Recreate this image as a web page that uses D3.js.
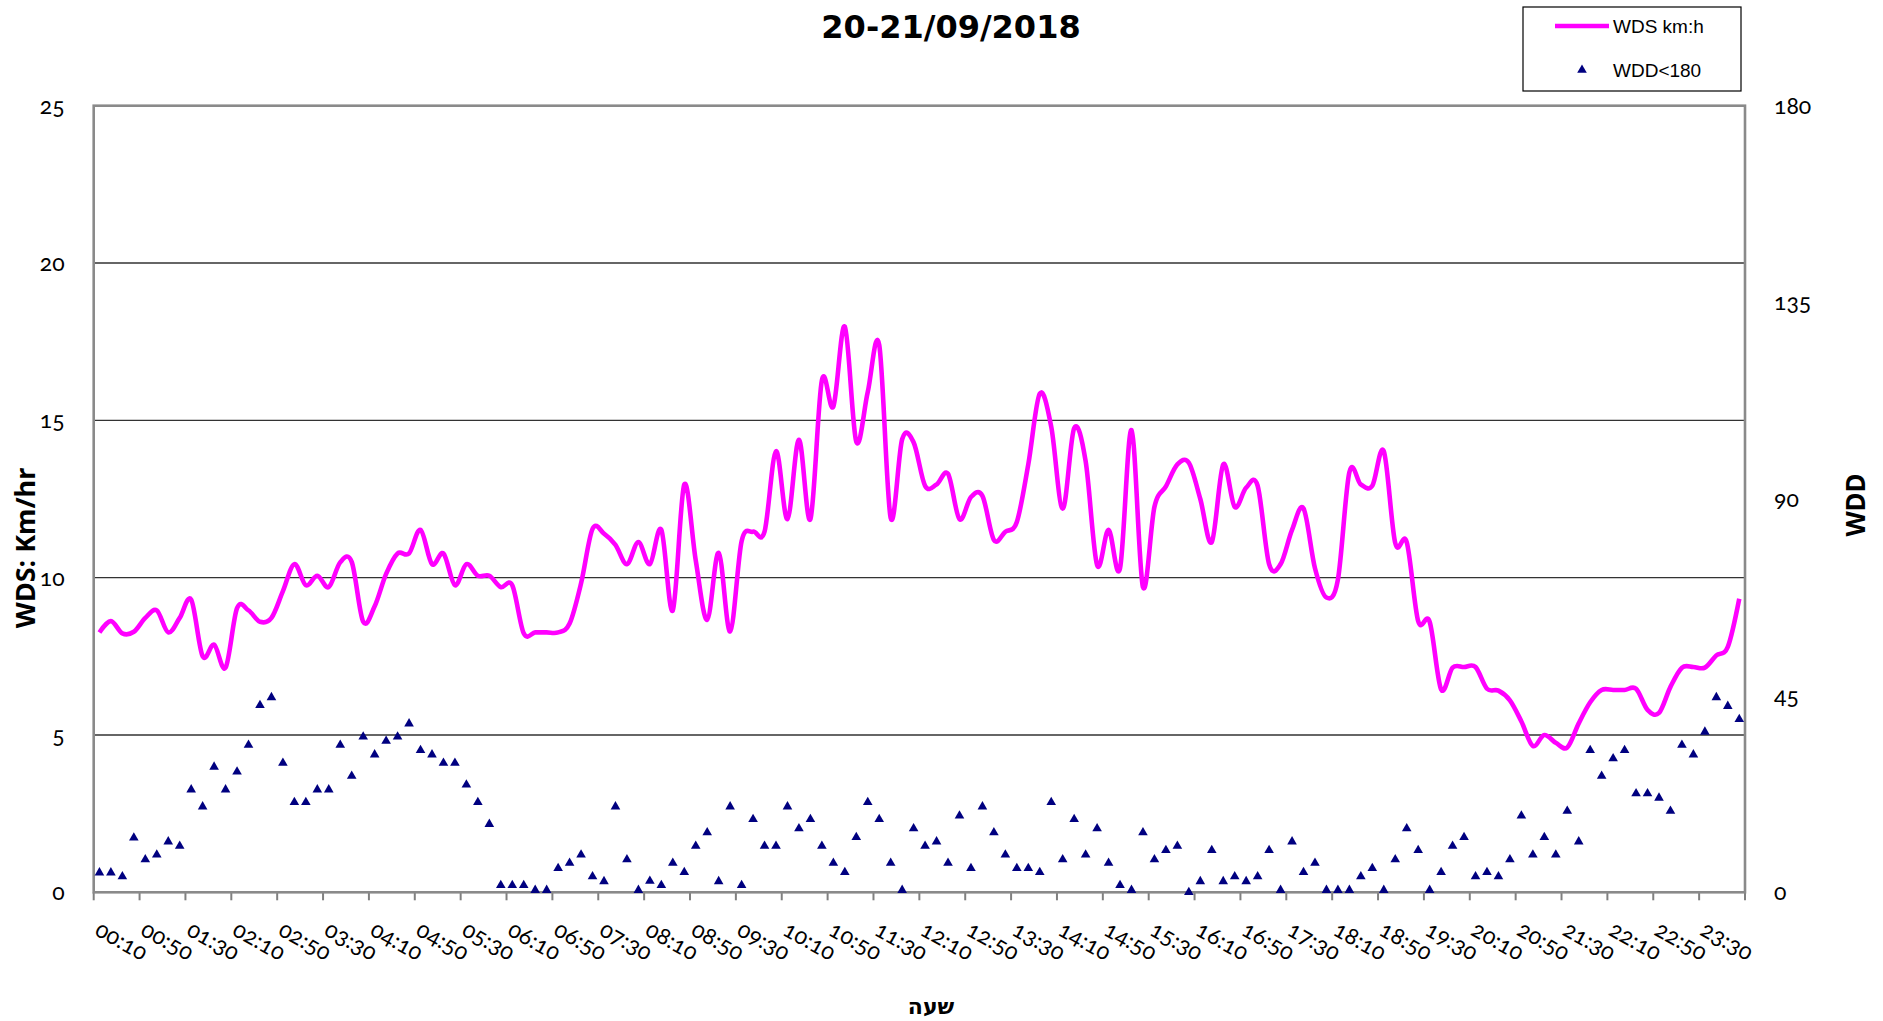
<!DOCTYPE html>
<html>
<head>
<meta charset="utf-8">
<script src="https://cdn.jsdelivr.net/npm/d3@7"></script>
<style>
  body { margin: 0; background: #fff; }
  svg text { font-family: "Noto Sans", "DejaVu Sans", sans-serif; fill: #000; }
  .onum { font-variant-numeric: oldstyle-nums; font-feature-settings: "onum" 1; }
</style>
</head>
<body>
<svg id="chart" width="1883" height="1021"></svg>
<script>
// chart data (10-minute steps, 00:10 .. 24:00)
const chartTitle = "20-21/09/2018";
const seriesNames = ["WDS km:h", "WDD<180"];

const wds = [
  8.26, 8.62, 8.23, 8.28, 8.72, 8.96, 8.26, 8.72, 9.3, 7.5,
  7.87, 7.14, 9.03, 8.96, 8.6, 8.72, 9.57, 10.43, 9.76, 10.06,
  9.7, 10.49, 10.5, 8.6, 9.09, 10.12, 10.77, 10.77, 11.52, 10.43,
  10.77, 9.76, 10.43, 10.06, 10.06, 9.7, 9.76, 8.23, 8.26, 8.26,
  8.26, 8.54, 9.82, 11.55, 11.4, 11.04, 10.43, 11.13, 10.43, 11.52,
  8.96, 12.96, 10.55, 8.66, 10.79, 8.29, 11.16, 11.46, 11.46, 14.02,
  11.86, 14.38, 11.86, 16.27, 15.44, 17.98, 14.32, 15.9, 17.4, 11.9,
  14.4, 14.3, 12.92, 12.96, 13.3, 11.86, 12.56, 12.6, 11.2, 11.46,
  11.77, 13.6, 15.85, 14.8, 12.19, 14.75, 13.7, 10.4, 11.52, 10.3,
  14.69, 9.7, 12.25, 12.9, 13.6, 13.65, 12.5, 11.13, 13.6, 12.25,
  12.86, 12.92, 10.43, 10.43, 11.52, 12.2, 10.3, 9.37, 9.94, 13.35,
  12.96, 12.92, 14.02, 11.1, 11.13, 8.62, 8.6, 6.45, 7.14, 7.16,
  7.16, 6.47, 6.41, 6.1, 5.43, 4.65, 5.0, 4.75, 4.6, 5.37,
  6.04, 6.43, 6.43, 6.43, 6.47, 5.8, 5.7, 6.53, 7.14, 7.16,
  7.14, 7.53, 7.8, 9.33
];

const wdd = [
  4.5, 4.5, 3.6, 12.5, 7.5, 8.6, 11.6, 10.6, 23.5, 19.6,
  28.7, 23.5, 27.6, 33.7, 42.8, 44.6, 29.6, 20.6, 20.6, 23.5,
  23.5, 33.7, 26.6, 35.6, 31.5, 34.6, 35.6, 38.6, 32.5, 31.5,
  29.6, 29.6, 24.6, 20.6, 15.6, 1.6, 1.6, 1.6, 0.5, 0.5,
  5.5, 6.7, 8.6, 3.6, 2.5, 19.6, 7.5, 0.5, 2.6, 1.6,
  6.7, 4.6, 10.6, 13.7, 2.5, 19.6, 1.6, 16.7, 10.6, 10.6,
  19.6, 14.6, 16.7, 10.6, 6.7, 4.6, 12.6, 20.6, 16.7, 6.7,
  0.5, 14.6, 10.6, 11.6, 6.7, 17.5, 5.5, 19.6, 13.7, 8.6,
  5.5, 5.5, 4.6, 20.6, 7.5, 16.7, 8.6, 14.6, 6.7, 1.6,
  0.5, 13.7, 7.5, 9.6, 10.6, 0, 2.5, 9.6, 2.5, 3.6,
  2.5, 3.6, 9.6, 0.5, 11.6, 4.6, 6.7, 0.5, 0.5, 0.5,
  3.6, 5.5, 0.5, 7.5, 14.6, 9.6, 0.5, 4.6, 10.6, 12.6,
  3.6, 4.6, 3.6, 7.5, 17.5, 8.6, 12.6, 8.6, 18.6, 11.6,
  32.5, 26.6, 30.6, 32.5, 22.6, 22.6, 21.6, 18.6, 33.7, 31.5,
  36.7, 44.6, 42.6, 39.6
];

const tickLabels = [
  "00:10", "00:50", "01:30", "02:10", "02:50", "03:30", "04:10", "04:50", "05:30",
  "06:10", "06:50", "07:30", "08:10", "08:50", "09:30", "10:10", "10:50", "11:30",
  "12:10", "12:50", "13:30", "14:10", "14:50", "15:30", "16:10", "16:50", "17:30",
  "18:10", "18:50", "19:30", "20:10", "20:50", "21:30", "22:10", "22:50", "23:30"
];
const leftTicks = [0, 5, 10, 15, 20, 25];
const rightTicks = [0, 45, 90, 135, 180];

// category keys: one per 10 minutes
const pad = d3.format("02");
const times = wds.map((_, i) => {
  const m = ((i + 1) * 10) % 1440;
  return pad(Math.floor(m / 60)) + ":" + pad(m % 60);
});

const plot = { left: 93.7, right: 1745, top: 105.7, bottom: 892.3 };
const tickFont = "Lato, 'Noto Sans', sans-serif";

const svg = d3.select("#chart");

const x = d3.scaleBand().domain(times).range([plot.left, plot.right]).padding(0);
const yL = d3.scaleLinear().domain([0, 25]).range([plot.bottom, plot.top]);
const yR = d3.scaleLinear().domain([0, 180]).range([plot.bottom, plot.top]);
const cx = t => x(t) + x.bandwidth() / 2;

// gridlines
svg.append("g")
  .selectAll("line")
  .data(leftTicks.filter(v => v > 0 && v < 25))
  .join("line")
  .attr("x1", plot.left).attr("x2", plot.right)
  .attr("y1", d => yL(d)).attr("y2", d => yL(d))
  .attr("stroke", "#333").attr("stroke-width", 1.3);

// category tick marks every 4 categories, on the boundaries
const tickIdx = d3.range(0, times.length + 1, 4);
svg.append("g")
  .selectAll("line")
  .data(tickIdx)
  .join("line")
  .attr("x1", i => plot.left + i * x.bandwidth())
  .attr("x2", i => plot.left + i * x.bandwidth())
  .attr("y1", plot.bottom).attr("y2", plot.bottom + 8)
  .attr("stroke", "#808080").attr("stroke-width", 2);

// plot frame
svg.append("rect")
  .attr("x", plot.left).attr("y", plot.top)
  .attr("width", plot.right - plot.left).attr("height", plot.bottom - plot.top)
  .attr("fill", "none").attr("stroke", "#8a8a8a").attr("stroke-width", 2.6);

// left axis labels
const gL = svg.append("g")
  .attr("transform", `translate(${plot.left},0)`)
  .call(d3.axisLeft(yL).tickValues(leftTicks).tickSize(0).tickPadding(29));
gL.select(".domain").remove();
gL.selectAll("text").attr("class", "onum").style("font-size", "23px")
  .style("font-family", tickFont);

// right axis labels
const gR = svg.append("g")
  .attr("transform", `translate(${plot.right},0)`)
  .call(d3.axisRight(yR).tickValues(rightTicks).tickSize(0).tickPadding(29));
gR.select(".domain").remove();
gR.selectAll("text").attr("class", "onum").style("font-size", "23px")
  .style("font-family", tickFont);

// bottom axis labels, rotated
const gB = svg.append("g")
  .attr("transform", `translate(0,${plot.bottom})`)
  .call(d3.axisBottom(x).tickValues(times.filter(t => tickLabels.includes(t))).tickSize(0));
gB.select(".domain").remove();
gB.selectAll(".tick text")
  .attr("class", "onum")
  .style("font-size", "23px")
  .style("font-family", tickFont)
  .attr("text-anchor", "start")
  .attr("x", 0).attr("y", 0).attr("dy", 0)
  .attr("transform", "translate(-6,42) rotate(29)");

// WDS line
const line = d3.line()
  .x((d, i) => cx(times[i]))
  .y(d => yL(d))
  .curve(d3.curveCatmullRom.alpha(0));

svg.append("path")
  .datum(wds)
  .attr("d", line)
  .attr("fill", "none")
  .attr("stroke", "#ff00ff")
  .attr("stroke-width", 4.6)
  .attr("stroke-linejoin", "round");

// WDD markers
const tri = d3.symbol(d3.symbolTriangle, 40);
svg.append("g")
  .selectAll("path")
  .data(wdd)
  .join("path")
  .attr("d", tri)
  .attr("transform", (d, i) => `translate(${cx(times[i])},${yR(d)})`)
  .attr("fill", "#000080");

// title
svg.append("text")
  .attr("x", 951).attr("y", 38)
  .attr("text-anchor", "middle")
  .style("font-family", "'DejaVu Sans', sans-serif")
  .style("font-weight", "bold")
  .style("font-size", "32px")
  .text(chartTitle);

// axis titles
svg.append("text")
  .attr("transform", "translate(35,548) rotate(-90)")
  .attr("text-anchor", "middle")
  .style("font-weight", "bold").style("font-size", "27px")
  .text("WDS: Km/hr");

svg.append("text")
  .attr("transform", "translate(1865,505) rotate(-90)")
  .attr("text-anchor", "middle")
  .style("font-weight", "bold").style("font-size", "26px")
  .text("WDD");

svg.append("text")
  .attr("x", 931).attr("y", 1014)
  .attr("text-anchor", "middle")
  .style("font-family", "'DejaVu Sans', sans-serif")
  .style("font-weight", "bold").style("font-size", "22px")
  .text("שעה");

// legend
const lg = svg.append("g");
lg.append("rect")
  .attr("x", 1523).attr("y", 7).attr("width", 218).attr("height", 84)
  .attr("fill", "#fff").attr("stroke", "#000").attr("stroke-width", 1.2);
lg.append("line")
  .attr("x1", 1555).attr("x2", 1609).attr("y1", 26).attr("y2", 26)
  .attr("stroke", "#ff00ff").attr("stroke-width", 4.5);
lg.append("path")
  .attr("d", tri)
  .attr("transform", "translate(1582,70)")
  .attr("fill", "#000080");
lg.selectAll("text.lab")
  .data(seriesNames)
  .join("text")
  .attr("class", "lab onum")
  .attr("x", 1613)
  .attr("y", (d, i) => [26, 70][i])
  .attr("dy", "0.35em")
  .style("font-family", "'Liberation Sans Narrow', 'Liberation Sans', sans-serif")
  .style("font-size", "19px")
  .text(d => d);
</script>
</body>
</html>
